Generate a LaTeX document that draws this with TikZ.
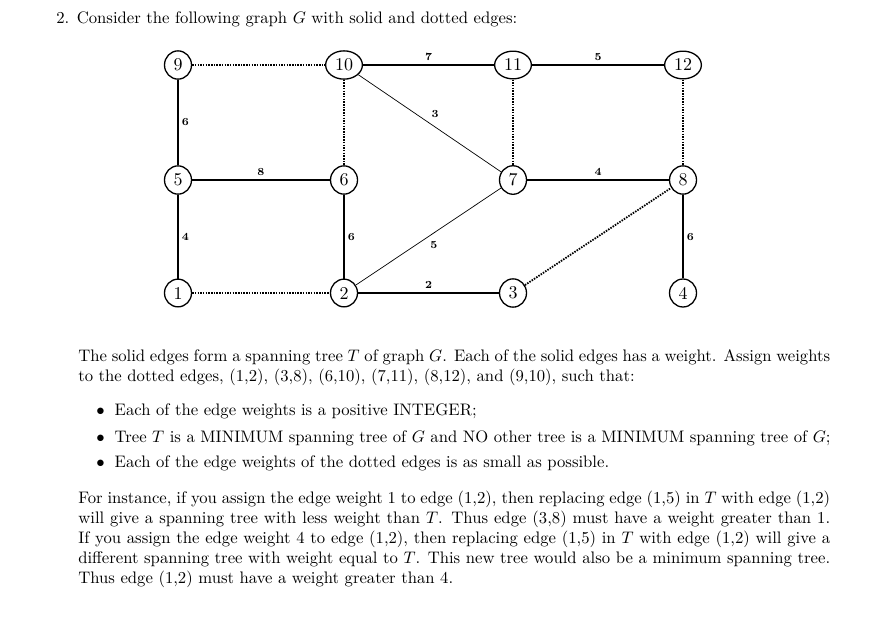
\documentclass[tikz,border=0pt]{standalone}
\usepackage{graphicx}
\usetikzlibrary{shapes.geometric}
\newcommand{\vlabtxt}[1]{\scalebox{1.8}{\fontsize{10}{12}\selectfont #1}}
\newcommand{\wlabtxt}[1]{\scalebox{1.667}{\fontsize{6.5}{8}\selectfont\bfseries #1}}
\begin{document}
\begin{tikzpicture}[x=1pt,y=-1pt,
  vtx/.style={draw, ellipse, line width=1.3pt, minimum width=27pt, minimum height=27pt,
    inner xsep=4pt, inner ysep=3.8pt},
  soledge/.style={line width=1.8pt},
  thinedge/.style={line width=0.7pt},
  dotedge/.style={line width=1.8pt, dash pattern=on 1.5pt off 1.2pt},
  wlab/.style={inner sep=1pt},
  txt/.style={scale=1.667, inner sep=0pt, anchor=base west, font=\fontsize{10}{12}\selectfont},
  bul/.style={txt}]
\useasboundingbox (0,0) rectangle (883,643);

% title
\node[txt] (title) at (56,23) {2.\hspace{4.5pt}Consider the following graph $G$ with solid and dotted edges:};

% vertices
\node[vtx] (n9)  at (178,65) {\vlabtxt{9}};
\node[vtx] (n10) at (344,65) {\vlabtxt{10}};
\node[vtx] (n11) at (513,65) {\vlabtxt{11}};
\node[vtx] (n12) at (683,65) {\vlabtxt{12}};
\node[vtx] (n5)  at (178,180) {\vlabtxt{5}};
\node[vtx] (n6)  at (344,180) {\vlabtxt{6}};
\node[vtx] (n7)  at (513,180) {\vlabtxt{7}};
\node[vtx] (n8)  at (683,180) {\vlabtxt{8}};
\node[vtx] (n1)  at (178,293) {\vlabtxt{1}};
\node[vtx] (n2)  at (344,293) {\vlabtxt{2}};
\node[vtx] (n3)  at (513,293) {\vlabtxt{3}};
\node[vtx] (n4)  at (683,293) {\vlabtxt{4}};

% solid edges
\draw[soledge] (n10) -- node[wlab, above=2.5pt] {\wlabtxt{7}} (n11);
\draw[soledge] (n11) -- node[wlab, above=2.5pt] {\wlabtxt{5}} (n12);
\draw[soledge] (n9) -- node[wlab, right=2pt] {\wlabtxt{6}} (n5);
\draw[soledge] (n5) -- node[wlab, above=2.5pt] {\wlabtxt{8}} (n6);
\draw[soledge] (n7) -- node[wlab, above=2.5pt] {\wlabtxt{4}} (n8);
\draw[soledge] (n5) -- node[wlab, right=2pt] {\wlabtxt{4}} (n1);
\draw[soledge] (n6) -- node[wlab, right=2pt] {\wlabtxt{6}} (n2);
\draw[soledge] (n8) -- node[wlab, right=2pt] {\wlabtxt{6}} (n4);
\draw[soledge] (n2) -- node[wlab, above=2.5pt] {\wlabtxt{2}} (n3);
\draw[thinedge] (n10) -- node[wlab, xshift=5.5pt, yshift=9.5pt] {\wlabtxt{3}} (n7);
\draw[thinedge] (n2) -- node[wlab, xshift=5.5pt, yshift=-8.5pt] {\wlabtxt{5}} (n7);

% dotted edges
\draw[dotedge] (n9) -- (n10);
\draw[dotedge] (n10) -- (n6);
\draw[dotedge] (n11) -- (n7);
\draw[dotedge] (n12) -- (n8);
\draw[dotedge] (n1) -- (n2);
\draw[dotedge] (n3) -- (n8);

% paragraph 1
\node[txt, text width=451pt, align=justify] (p1) at (78,361) {The solid edges form a spanning tree $T$ of graph $G$. Each of the solid edges has a weight. Assign weights\linebreak to the dotted edges, (1,2), (3,8), (6,10), (7,11), (8,12), and (9,10), such that:};

% bullets
\node[bul] (b1) at (96,415) {\makebox[11pt][l]{$\bullet$}Each of the edge weights is a positive INTEGER;};
\node[bul] (b2) at (96,442) {\makebox[11pt][l]{$\bullet$}Tree $T$ is a MINIMUM spanning tree of $G$ and NO other tree is a MINIMUM spanning tree of $G$;};
\node[bul] (b3) at (96,467) {\makebox[11pt][l]{$\bullet$}Each of the edge weights of the dotted edges is as small as possible.};

% paragraph 2
\node[txt, text width=451pt, align=justify] (p2) at (78,503) {For instance, if you assign the edge weight 1 to edge (1,2), then replacing edge (1,5) in $T$ with edge (1,2)\linebreak will give a spanning tree with less weight than $T$. Thus edge (3,8) must have a weight greater than 1.\linebreak If you assign the edge weight 4 to edge (1,2), then replacing edge (1,5) in $T$ with edge (1,2) will give a\linebreak different spanning tree with weight equal to $T$. This new tree would also be a minimum spanning tree.\linebreak Thus edge (1,2) must have a weight greater than 4.};
\end{tikzpicture}
\end{document}
